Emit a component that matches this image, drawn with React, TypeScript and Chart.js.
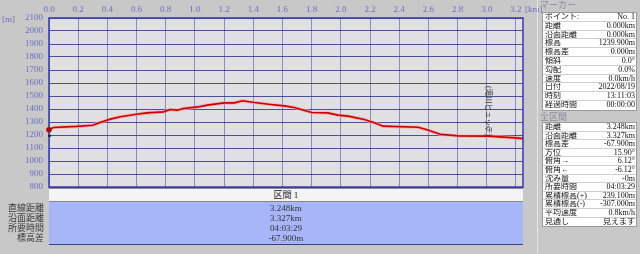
import React, { useEffect, useRef } from "react";
import { Chart, registerables } from "chart.js";

Chart.register(...registerables);

// ---- data ----
const distanceKm = [0, 0.03, 0.19, 0.3, 0.35, 0.42, 0.49, 0.6, 0.67, 0.785, 0.83, 0.88, 0.92, 1.02, 1.085, 1.2, 1.27, 1.326, 1.406, 1.52, 1.613, 1.68, 1.8, 1.91, 1.98, 2.05, 2.16, 2.23, 2.29, 2.53, 2.59, 2.68, 2.805, 3.01, 3.196, 3.248];
const elevationM = [1240, 1258, 1266, 1275, 1296, 1322, 1340, 1360, 1370, 1378, 1396, 1391, 1404, 1416, 1430, 1447, 1447, 1463, 1450, 1435, 1424, 1412, 1373, 1370, 1353, 1345, 1320, 1294, 1268, 1260, 1240, 1206, 1193, 1191, 1178, 1172];
const xMinKm = 0;
const xMaxKm = 3.248;
const xStepKm = 0.2;
const yMinM = 800;
const yMaxM = 2100;
const yStepM = 100;
const waypointKm = [3.01];
const waypointNames = ["(滝川ヒュッテ)"];
const startMarkerKm = [0];
const startMarkerM = [1240];

const sectionTitle = "区間 1";
const sectionRowLabels = ["直線距離", "沿面距離", "所要時間", "標高差"];
const sectionRowValues = ["3.248km", "3.327km", "04:03:29", "-67.900m"];

const markerTitle = "マーカー";
const markerLabels = ["ポイント:", "距離", "沿面距離", "標高", "標高差", "傾斜", "勾配", "速度", "日付", "時刻", "経過時間"];
const markerValues = ["No. 1", "0.000km", "0.000km", "1239.900m", "0.000m", "0.0°", "0.0%", "0.0km/h", "2022/08/19", "13:11:03", "00:00:00"];

const totalTitle = "全区間";
const totalLabels = ["距離", "沿面距離", "標高差", "方位", "俯角→", "俯角←", "沈み量", "所要時間", "累積標高(+)", "累積標高(-)", "平均速度", "見通し"];
const totalValues = ["3.248km", "3.327km", "-67.900m", "15.90°", "6.12°", "-6.12°", "-0m", "04:03:29", "239.100m", "-307.000m", "0.8km/h", "見えます"];

const FONT = '"Liberation Serif", "Noto Sans CJK JP", serif';
const AXIS_COLOR = "#6a6fc0";

function InfoTable({ labels, values, top, rowH }: { labels: string[]; values: string[]; top: number; rowH: number }) {
  return (
    <div style={{ position: "absolute", left: 542, top, width: 95, background: "#ffffff", border: "1px solid #9a9a9a", boxSizing: "border-box" }}>
      {labels.map((l, i) => (
        <div key={i} style={{ display: "flex", justifyContent: "space-between", height: rowH, lineHeight: rowH + "px", fontSize: 8, fontFamily: FONT, color: "#111", borderBottom: i < labels.length - 1 ? "1px solid #d0d0d0" : "none", boxSizing: "border-box", padding: "0 1px 0 2px", whiteSpace: "nowrap", overflow: "hidden" }}>
          <span>{l}</span>
          <span>{values[i]}</span>
        </div>
      ))}
    </div>
  );
}

export default function App() {
  const ref = useRef<HTMLCanvasElement | null>(null);

  useEffect(() => {
    document.body.style.margin = "0";
    const canvas = ref.current;
    if (!canvas) return;
    const pts = distanceKm.map((d, i) => ({ x: d, y: elevationM[i] }));

    const framePlugin = {
      id: "frame",
      beforeDraw(chart: any) {
        const { ctx, chartArea: a } = chart;
        ctx.save();
        ctx.fillStyle = "#e0e0e2";
        ctx.fillRect(a.left, a.top, a.right - a.left, a.bottom - a.top);
        ctx.restore();
      },
      afterDraw(chart: any) {
        const { ctx, chartArea: a, scales } = chart;
        ctx.save();
        ctx.strokeStyle = "#3a3aa8";
        ctx.lineWidth = 1.5;
        ctx.strokeRect(a.left, a.top, a.right - a.left, a.bottom - a.top);
        // units
        ctx.fillStyle = AXIS_COLOR;
        ctx.font = "9px " + FONT;
        ctx.textBaseline = "middle";
        ctx.textAlign = "left";
        ctx.fillText("[m]", 2, 20);
        ctx.fillText("[km]", a.right + 2, 10);
        // waypoint labels
        waypointKm.forEach((km, i) => {
          const x = scales.x.getPixelForValue(km);
          ctx.save();
          ctx.translate(x, 86);
          ctx.rotate(Math.PI / 2);
          ctx.fillStyle = "#303030";
          ctx.font = "7.5px " + FONT;
          ctx.textAlign = "left";
          ctx.textBaseline = "middle";
          ctx.fillText(waypointNames[i], 0, 0);
          ctx.restore();
          ctx.fillStyle = "#f4f4f4";
          ctx.strokeStyle = "#505050";
          ctx.lineWidth = 0.8;
          ctx.beginPath();
          ctx.moveTo(x - 2, 130);
          ctx.lineTo(x + 2, 130);
          ctx.lineTo(x, 126);
          ctx.closePath();
          ctx.fill();
          ctx.stroke();
        });
        // start marker
        startMarkerKm.forEach((km, i) => {
          const x = scales.x.getPixelForValue(km);
          const y = scales.y.getPixelForValue(startMarkerM[i]);
          ctx.fillStyle = "#a01010";
          ctx.beginPath();
          ctx.arc(x, y, 2.8, 0, Math.PI * 2);
          ctx.fill();
          ctx.fillStyle = "#202020";
          ctx.fillRect(x - 1, y + 5, 3, 2);
        });
        ctx.restore();
      },
    };

    const chart = new Chart(canvas, {
      type: "line",
      data: {
        datasets: [
          { data: pts, borderColor: "#c80000", borderWidth: 1.6, pointRadius: 0, tension: 0, order: 0 },
          { data: pts, borderColor: "rgba(255,160,160,0.7)", borderWidth: 3.5, pointRadius: 0, tension: 0, order: 1 },
        ],
      },
      options: {
        animation: false,
        responsive: false,
        parsing: true,
        layout: { padding: { left: 0, top: 0, right: 117, bottom: 67 } },
        plugins: { legend: { display: false }, tooltip: { enabled: false } },
        scales: {
          x: {
            type: "linear",
            position: "top",
            min: xMinKm,
            max: xMaxKm,
            afterFit(scale: any) { scale.height = 18; },
            grid: { color: "rgba(70,70,150,0.55)", lineWidth: 1, drawTicks: false },
            border: { display: false },
            ticks: {
              stepSize: xStepKm,
              includeBounds: false,
              padding: 3,
              color: AXIS_COLOR,
              font: { family: FONT, size: 9 },
              callback: (v: any) => Number(v).toFixed(1),
              maxRotation: 0,
              autoSkip: false,
            },
          },
          y: {
            type: "linear",
            position: "left",
            min: yMinM,
            max: yMaxM,
            afterFit(scale: any) { scale.width = 49; },
            grid: { color: "rgba(40,40,140,0.8)", lineWidth: 1, drawTicks: false },
            border: { display: false },
            ticks: {
              stepSize: yStepM,
              padding: 6,
              color: AXIS_COLOR,
              font: { family: FONT, size: 9 },
              callback: (v: any) => String(Math.round(Number(v))),
              autoSkip: false,
            },
          },
        },
      },
      plugins: [framePlugin],
    } as any);
    return () => chart.destroy();
  }, []);

  return (
    <div style={{ position: "fixed", left: 0, top: 0, width: 640, height: 254, background: "#c8c8c8", overflow: "hidden" }}>
      <canvas ref={ref} width={640} height={254} style={{ position: "absolute", left: 0, top: 0 }} />
      {/* section table */}
      <div style={{ position: "absolute", left: 49, top: 188, width: 474, height: 14, background: "#f4f4f4", borderTop: "1px solid #888", borderBottom: "1px solid #888", boxSizing: "border-box", textAlign: "center", fontSize: 9, lineHeight: "12px", fontFamily: FONT, color: "#222" }}>
        {sectionTitle}
      </div>
      <div style={{ position: "absolute", left: 49, top: 202, width: 474, height: 43, background: "#a6b6f8", borderBottom: "1.5px solid #3a3a90", boxSizing: "border-box", paddingTop: 1 }}>
        {sectionRowValues.map((v, i) => (
          <div key={i} style={{ height: 10, lineHeight: "10px", textAlign: "center", fontSize: 9, fontFamily: FONT, color: "#333" }}>{v}</div>
        ))}
      </div>
      <div style={{ position: "absolute", left: 0, top: 203, width: 44, paddingTop: 0 }}>
        {sectionRowLabels.map((l, i) => (
          <div key={i} style={{ height: 10, lineHeight: "10px", textAlign: "right", fontSize: 9, fontFamily: FONT, color: "#3a3a3a", whiteSpace: "nowrap" }}>{l}</div>
        ))}
      </div>
      {/* right panel */}
      <div style={{ position: "absolute", left: 537, top: 0, width: 1, height: 254, background: "#e6e6e6" }} />
      <div style={{ position: "absolute", left: 540, top: 0, fontSize: 9, lineHeight: "11px", fontFamily: FONT, color: "#8a8a9a" }}>{markerTitle}</div>
      <InfoTable labels={markerLabels} values={markerValues} top={12} rowH={8.8} />
      <div style={{ position: "absolute", left: 540, top: 112, fontSize: 9, lineHeight: "10px", fontFamily: FONT, color: "#8a8a9a" }}>{totalTitle}</div>
      <InfoTable labels={totalLabels} values={totalValues} top={122} rowH={8.6} />
    </div>
  );
}
